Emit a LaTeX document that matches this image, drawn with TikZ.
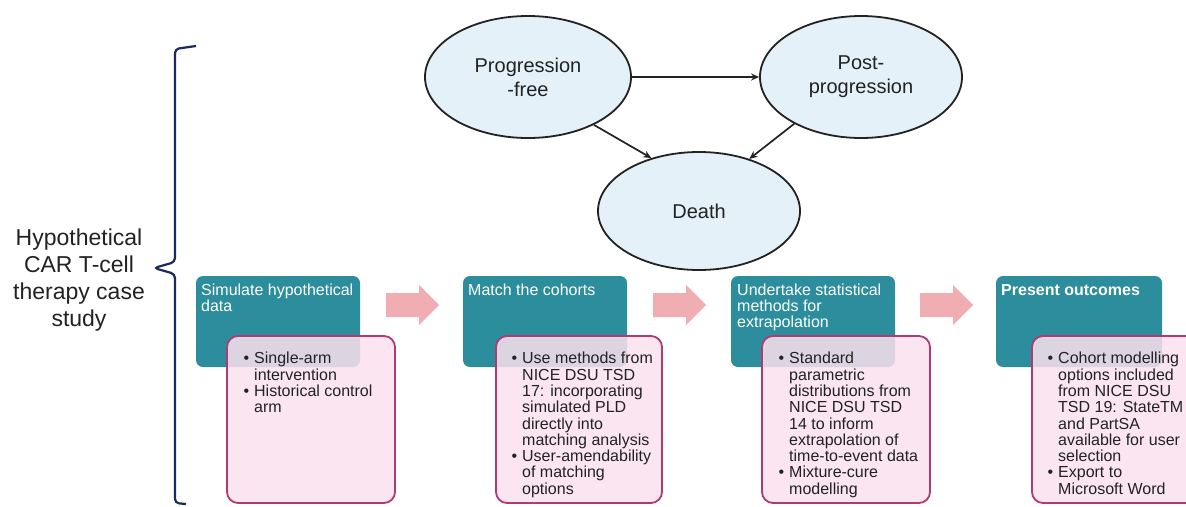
\documentclass[tikz,border=0pt]{standalone}
\usepackage{fontspec}
\setmainfont{Liberation Sans}
\usetikzlibrary{shapes.geometric,arrows.meta}
\definecolor{tealbox}{HTML}{2C8D9C}
\definecolor{pinkfill}{HTML}{FAE1ED}
\definecolor{pinkline}{HTML}{B03A72}
\definecolor{salmon}{HTML}{F0AEB2}
\definecolor{navy}{HTML}{1B2A5A}
\definecolor{ellfill}{HTML}{E4F1F8}
\definecolor{dark}{HTML}{222222}
\newcommand\bl{\llap{\textbullet\hspace{5pt}}}
\begin{document}
\begin{tikzpicture}[x=1pt,y=-1pt,
  state/.style={ellipse,draw=dark,line width=1.8pt,fill=ellfill,inner sep=0pt,
    minimum width=206pt,minimum height=122pt,align=center,text=dark,
    font=\fontsize{20}{24}\selectfont},
  conn/.style={draw=dark,line width=1.7pt,-{Stealth[length=8pt,width=7pt]}},
  tealbox/.style={fill=tealbox,rounded corners=7pt},
  pinkbox/.style={fill=pinkfill,fill opacity=0.86,draw=pinkline,line width=1.8pt,rounded corners=11pt},
  ttext/.style={anchor=north west,inner sep=0pt,text=white,align=left,
    font=\fontsize{16}{15.8}\selectfont},
  ptext/.style={anchor=north west,inner sep=0pt,text=dark,align=left,
    font=\fontsize{16}{16.3}\selectfont},
  blockarrow/.style={fill=salmon}
]
\useasboundingbox (0,0) rectangle (1186,506);
\clip (0,0) rectangle (1186,506);

% left label and brace
\node[align=center,text=dark,font=\fontsize{23}{27}\selectfont] (lbl) at (79,280)
  {Hypothetical\\CAR T-cell\\therapy case\\study};
\draw[navy,line width=2.2pt,rounded corners=4pt]
  (196,46) -- (175,49) -- (175,262) -- (154,268) -- (175,274) -- (175,503) -- (186,504);

% state diagram
\node[state] (pf) at (528,77) {Progression\\-free};
\node[state,minimum width=202pt] (pp) at (861,77) {Post-\\progression};
\node[state,minimum width=202pt,minimum height=118pt] (death) at (699,211) {Death};
\draw[conn] (pf.east) -- (pp.west);
\draw[conn] (pf.-36) -- (death.132);
\draw[conn] (pp.215) -- (death.46);

% block arrows
\foreach \dx/\nm in {0/a1,267/a2,534/a3}{
  \fill[blockarrow] (386+\dx,293) -- (419+\dx,293) -- (419+\dx,285) -- (439+\dx,305)
    -- (419+\dx,325) -- (419+\dx,317) -- (386+\dx,317) -- cycle;
}

% teal boxes
\fill[tealbox] (196,276) rectangle (360,367);
\fill[tealbox] (463,276) rectangle (627,367);
\fill[tealbox] (731,276) rectangle (895,367);
\fill[tealbox] (996,276) rectangle (1162,367);
\node[ttext] (t1) at (201,284) {Simulate hypothetical\\data};
\node[ttext] (t2) at (468,284) {Match the cohorts};
\node[ttext] (t3) at (737,284) {Undertake statistical\\methods for\\extrapolation};
\node[ttext] (t4) at (1001,284) {\textbf{Present outcomes}};

% pink boxes
\draw[pinkbox] (227,336) rectangle (395,503);
\draw[pinkbox] (496,336) rectangle (662,503);
\draw[pinkbox] (762,336) rectangle (930,503);
\draw[pinkbox] (1032,336) rectangle (1200,503);
\node[ptext] (p1) at (254,352) {\bl Single-arm\\intervention\\\bl Historical control\\arm};
\node[ptext] (p2) at (522,352) {\bl Use methods from\\NICE DSU TSD\\17: incorporating\\simulated PLD\\directly into\\matching analysis\\\bl User-amendability\\of matching\\options};
\node[ptext] (p3) at (789,352) {\bl Standard\\parametric\\distributions from\\NICE DSU TSD\\14 to inform\\extrapolation of\\time-to-event data\\\bl Mixture-cure\\modelling};
\node[ptext] (p4) at (1058,352) {\bl Cohort modelling\\options included\\from NICE DSU\\TSD 19: StateTM\\and PartSA\\available for user\\selection\\\bl Export to\\Microsoft Word};
\end{tikzpicture}
\end{document}
